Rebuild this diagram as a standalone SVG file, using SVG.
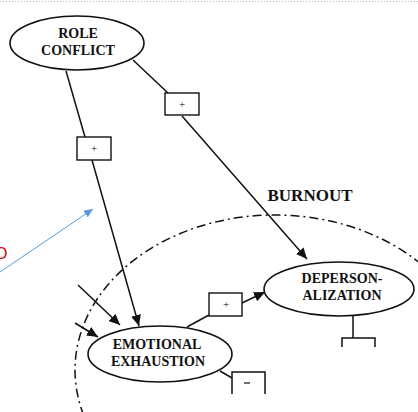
<svg xmlns="http://www.w3.org/2000/svg" width="418" height="412" viewBox="0 0 418 412">
  <style>
    .node { fill: #fff; stroke: #111; stroke-width: 1.6; }
    .lbl { font-family: "Liberation Serif", "Times New Roman", serif; font-weight: bold; font-size: 14px; fill: #111; text-anchor: middle; }
    .edge { fill: none; stroke: #111; stroke-width: 1.5; }
    .sign { fill: #fff; stroke: #111; stroke-width: 1.4; }
    .signtxt { font-family: "Liberation Serif", "Times New Roman", serif; font-size: 11px; fill: #000; text-anchor: middle; }
  </style>
  <defs>
    <marker id="arrow" markerWidth="12" markerHeight="10" refX="11" refY="5" orient="auto" markerUnits="userSpaceOnUse">
      <path d="M0,0 L11,5 L0,10 Z" fill="#111"/>
    </marker>
    <marker id="arrow-blue" markerWidth="10" markerHeight="8" refX="9" refY="4" orient="auto" markerUnits="userSpaceOnUse">
      <path d="M0,0 L9,4 L0,8 Z" fill="#5b9bd5"/>
    </marker>
  </defs>

  <rect width="418" height="412" fill="#fff"/>
  <!-- page edge -->
  <line x1="0" y1="1.5" x2="418" y2="1.5" stroke="#b8b8b8" stroke-width="1" stroke-dasharray="1 2"/>

  <!-- burnout boundary -->
  <g id="burnout">
    <ellipse cx="275" cy="370" rx="200" ry="155" fill="none" stroke="#111" stroke-width="1.5" stroke-dasharray="9 4 2 4"/>
    <text x="310" y="201" class="lbl" style="font-size:17px">BURNOUT</text>
  </g>

  <g id="connectors">
    <!-- role conflict to emotional exhaustion -->
    <line class="edge" x1="66" y1="71" x2="85" y2="137"/>
    <line class="edge" x1="92" y1="160" x2="139" y2="326" marker-end="url(#arrow)"/>
    <!-- role conflict to depersonalization -->
    <line class="edge" x1="133" y1="60" x2="168" y2="93"/>
    <line class="edge" x1="182" y1="116" x2="307" y2="259" marker-end="url(#arrow)"/>
    <!-- emotional exhaustion to depersonalization -->
    <line class="edge" x1="187" y1="327" x2="209" y2="315"/>
    <line class="edge" x1="242" y1="303" x2="265" y2="292" marker-end="url(#arrow)"/>
    <!-- incoming influences on emotional exhaustion -->
    <line class="edge" x1="78" y1="285" x2="120" y2="325" marker-end="url(#arrow)"/>
    <line class="edge" x1="75" y1="323" x2="98" y2="337" marker-end="url(#arrow)"/>
    <!-- emotional exhaustion outgoing (negative) -->
    <line class="edge" x1="220" y1="371" x2="232" y2="378"/>
    <!-- depersonalization outgoing -->
    <polyline class="edge" points="353,316 353,338"/>
    <polyline class="edge" points="342,347 342,338 375,338 375,347"/>
    <!-- sign boxes -->
    <rect class="sign" x="165" y="93" width="34" height="22"/>
    <text class="signtxt" x="182" y="108">+</text>
    <rect class="sign" x="77" y="137" width="34" height="23"/>
    <text class="signtxt" x="94" y="152">+</text>
    <rect class="sign" x="209" y="293" width="33" height="23"/>
    <text class="signtxt" x="226" y="308">+</text>
    <polyline class="edge" points="232,394 232,372 265,372 265,394"/>
    <line x1="244" y1="383" x2="250" y2="383" stroke="#111" stroke-width="1.2"/>
  </g>

  <g id="role-conflict">
    <ellipse class="node" cx="77" cy="43" rx="67" ry="27"/>
    <text class="lbl" x="78" y="38">ROLE</text>
    <text class="lbl" x="78" y="55">CONFLICT</text>
  </g>

  <g id="emotional-exhaustion">
    <ellipse class="node" cx="160" cy="354" rx="72" ry="28"/>
    <text class="lbl" x="157" y="349">EMOTIONAL</text>
    <text class="lbl" x="158" y="366">EXHAUSTION</text>
  </g>

  <g id="depersonalization">
    <ellipse class="node" cx="339" cy="289" rx="75" ry="27"/>
    <text class="lbl" x="342" y="283">DEPERSON-</text>
    <text class="lbl" x="342" y="300">ALIZATION</text>
  </g>

  <!-- annotation -->
  <g id="annotation">
    <text x="-5" y="259" font-family="Liberation Sans, Arial, sans-serif" font-size="16" fill="#e00000">O</text>
    <line x1="0" y1="272" x2="93" y2="209" stroke="#5b9bd5" stroke-width="1" marker-end="url(#arrow-blue)"/>
  </g>
</svg>
